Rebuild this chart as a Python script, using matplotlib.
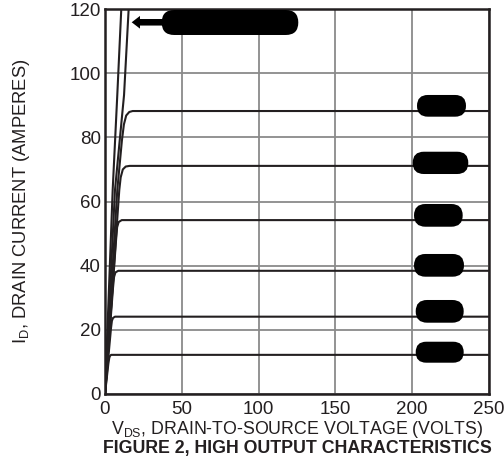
import matplotlib.pyplot as plt
from matplotlib.patches import FancyBboxPatch, Polygon

plt.rcParams["font.family"] = ["Liberation Sans", "DejaVu Sans"]
plt.rcParams["mathtext.fontset"] = "custom"
plt.rcParams["mathtext.rm"] = "Liberation Sans"

# output curves, one pair of lists per gate drive level
vds_12 = [0, 2.2, 2.8, 3.3, 4.0, 250]
id_12 = [0, 9.5, 11.3, 11.9, 12.2, 12.2]
vds_24 = [0, 3.9, 4.5, 5.2, 6.5, 250]
id_24 = [0, 20.5, 22.8, 23.7, 24.1, 24.1]
vds_38 = [0, 5.2, 5.9, 6.8, 8.6, 250]
id_38 = [0, 33.0, 36.5, 37.9, 38.4, 38.4]
vds_54 = [0, 7.2, 7.9, 8.9, 10.9, 250]
id_54 = [0, 48.0, 52.0, 53.6, 54.2, 54.2]
vds_71 = [0, 9.3, 10.2, 11.6, 13.5, 16.0, 250]
id_71 = [0, 63.6, 67.5, 70.0, 70.9, 71.1, 71.1]
vds_88 = [0, 8.0, 11.0, 12.3, 13.8, 15.8, 18.0, 250]
id_88 = [0, 63.6, 79.0, 84.0, 86.8, 87.9, 88.2, 88.2]
# ohmic lines that run off the top of the chart
vds_hi1 = [0, 5.0, 8.0, 10.6, 11.5]
id_hi1 = [0, 63.6, 93.2, 120, 130]
vds_hi2 = [0, 6.5, 12.4, 15.4, 16.5]
id_hi2 = [0, 63.6, 93.2, 120, 130]

curves = [
    (vds_12, id_12), (vds_24, id_24), (vds_38, id_38), (vds_54, id_54),
    (vds_71, id_71), (vds_88, id_88), (vds_hi1, id_hi1), (vds_hi2, id_hi2),
]

x_ticks = [0, 50, 100, 150, 200, 250]
y_ticks = [0, 20, 40, 60, 80, 100, 120]

ink = "#231f20"

fig = plt.figure(figsize=(5.04, 4.70), dpi=100)
ax = fig.add_axes([105 / 504, 76 / 470, 384 / 504, 385 / 470])

ax.set_xlim(0, 250)
ax.set_ylim(0, 120)
ax.set_xticks(x_ticks)
ax.set_yticks(y_ticks)
ax.tick_params(length=0, labelsize=13.5, colors=ink, pad=3)
ax.tick_params(axis="x", pad=5)
ax.grid(True, color="#8a8a8a", linewidth=1.3)
ax.set_axisbelow(True)
for sp in ax.spines.values():
    sp.set_linewidth(1.8)
    sp.set_color(ink)

for vds, ids in curves:
    ax.plot(vds, ids, color=ink, linewidth=1.5, solid_capstyle="butt")

# blacked-out curve labels (stadium shapes, axes fraction coords)
blobs = [
    (0.1477, 0.9325, 0.3557, 0.0649),
    (0.8125, 0.7203, 0.1276, 0.0564),
    (0.8013, 0.5714, 0.1448, 0.0579),
    (0.8047, 0.4345, 0.1268, 0.0590),
    (0.8047, 0.3047, 0.1302, 0.0590),
    (0.8091, 0.1852, 0.1250, 0.0590),
    (0.8091, 0.0813, 0.1250, 0.0545),
]
for x0, y0, w, h in blobs:
    box = FancyBboxPatch((x0, y0), w, h,
                         boxstyle=f"round,pad=0,rounding_size={h / 2}",
                         transform=ax.transAxes, facecolor="black",
                         edgecolor="none", zorder=5)
    ax.add_patch(box)

# leader arrow on the top label
arrow = Polygon([(0.0695, 0.9655), (0.0911, 0.9820), (0.0911, 0.9740),
                 (0.1530, 0.9740), (0.1530, 0.9570), (0.0911, 0.9570),
                 (0.0911, 0.9490)],
                closed=True, transform=ax.transAxes, facecolor="black",
                edgecolor="none", zorder=5)
ax.add_patch(arrow)

ax.set_xlabel(r"V$_{\mathrm{DS}}$, DRAIN-TO-SOURCE VOLTAGE (VOLTS)",
              fontsize=12.8, color=ink, labelpad=1)
ax.set_ylabel(r"I$_{\mathrm{D}}$, DRAIN CURRENT (AMPERES)",
              fontsize=13.2, color=ink, labelpad=27)
fig.text(297 / 504, 1 - 449 / 470, "FIGURE 2, HIGH OUTPUT CHARACTERISTICS",
         ha="center", va="center", fontsize=12.8, fontweight="bold", color=ink)

fig.savefig("out.png", dpi=100)
